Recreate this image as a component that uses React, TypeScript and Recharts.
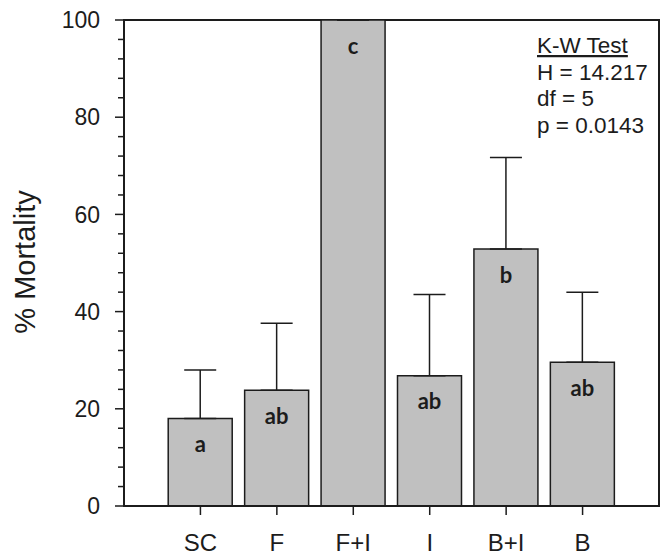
import { BarChart, Bar, XAxis, YAxis, ErrorBar, LabelList, ReferenceArea, ReferenceLine } from 'recharts'

const treatments = ['SC', 'F', 'F+I', 'I', 'B+I', 'B']
const mortality = [18, 23.8, 100, 26.8, 52.9, 29.6]
const upperError = [10, 13.8, 0, 16.7, 18.8, 14.4]
const groupLetters = ['a', 'ab', 'c', 'ab', 'b', 'ab']
const xPositions = [1, 2, 3, 4, 5, 6]
const majorTicks = [0, 20, 40, 60, 80, 100]
const minorTicks = [4, 8, 12, 16, 24, 28, 32, 36, 44, 48, 52, 56, 64, 68, 72, 76, 84, 88, 92, 96]
const statLines = ['K-W Test', 'H = 14.217', 'df = 5', 'p = 0.0143']

const data = treatments.map((name, i) => ({
  pos: xPositions[i],
  name,
  value: mortality[i],
  err: [0, upperError[i]],
  letter: groupLetters[i],
}))

const INK = '#1c1c1c'
const ARIAL = '"Liberation Sans", Arial, sans-serif'

// short stub pointing left from the y axis line
function MinorTick(props: any) {
  const { x1, y1 } = props
  return <line x1={x1 - 6} x2={x1} y1={y1} y2={y1} stroke={INK} strokeWidth={1.5} />
}

export default function App() {
  return (
    <div style={{ position: 'absolute', left: 0, top: 0, width: 666, height: 557, background: '#fff' }}>
      <BarChart width={666} height={557} data={data} margin={{ top: 20, right: 7, bottom: 0, left: 0 }}>
        <XAxis
          dataKey="pos"
          type="number"
          domain={[0, 7]}
          ticks={xPositions}
          interval={0}
          tickFormatter={(v: number) => treatments[v - 1]}
          height={51}
          tickSize={9}
          tickMargin={19}
          stroke={INK}
          strokeWidth={2}
          tickLine={{ stroke: INK, strokeWidth: 1.5 }}
          tick={{ fontSize: 24, fill: INK, fontFamily: ARIAL }}
        />
        <YAxis
          domain={[0, 100]}
          ticks={majorTicks}
          interval={0}
          width={124}
          tickSize={9}
          tickMargin={15}
          stroke={INK}
          strokeWidth={2}
          tickLine={{ stroke: INK, strokeWidth: 1.5 }}
          tick={{ fontSize: 23, fill: INK, fontFamily: ARIAL }}
        />
        {minorTicks.map((v) => (
          <ReferenceLine key={v} y={v} ifOverflow="visible" shape={<MinorTick />} />
        ))}
        <Bar dataKey="value" barSize={64} fill="#c0c0c0" stroke={INK} strokeWidth={1.5} isAnimationActive={false}>
          <ErrorBar dataKey="err" width={16} stroke={INK} strokeWidth={1.5} direction="y" />
          <LabelList
            dataKey="letter"
            position="insideTop"
            offset={18}
            fill={INK}
            fontSize={22}
            fontWeight="bold"
            fontFamily="Lato, 'Open Sans', sans-serif"
          />
        </Bar>
        <ReferenceArea y1={0} y2={100} ifOverflow="visible" fill="none" fillOpacity={0} stroke={INK} strokeWidth={2} />
        <text x={35} y={262} transform="rotate(-90, 35, 262)" textAnchor="middle" fontSize={29} fill={INK} fontFamily={ARIAL}>
          % Mortality
        </text>
        {statLines.map((line, i) => (
          <text key={line} x={537} y={53 + i * 26.7} fontSize={22.5} fill={INK} fontFamily={ARIAL} textDecoration={i === 0 ? 'underline' : undefined}>
            {line}
          </text>
        ))}
      </BarChart>
    </div>
  )
}
